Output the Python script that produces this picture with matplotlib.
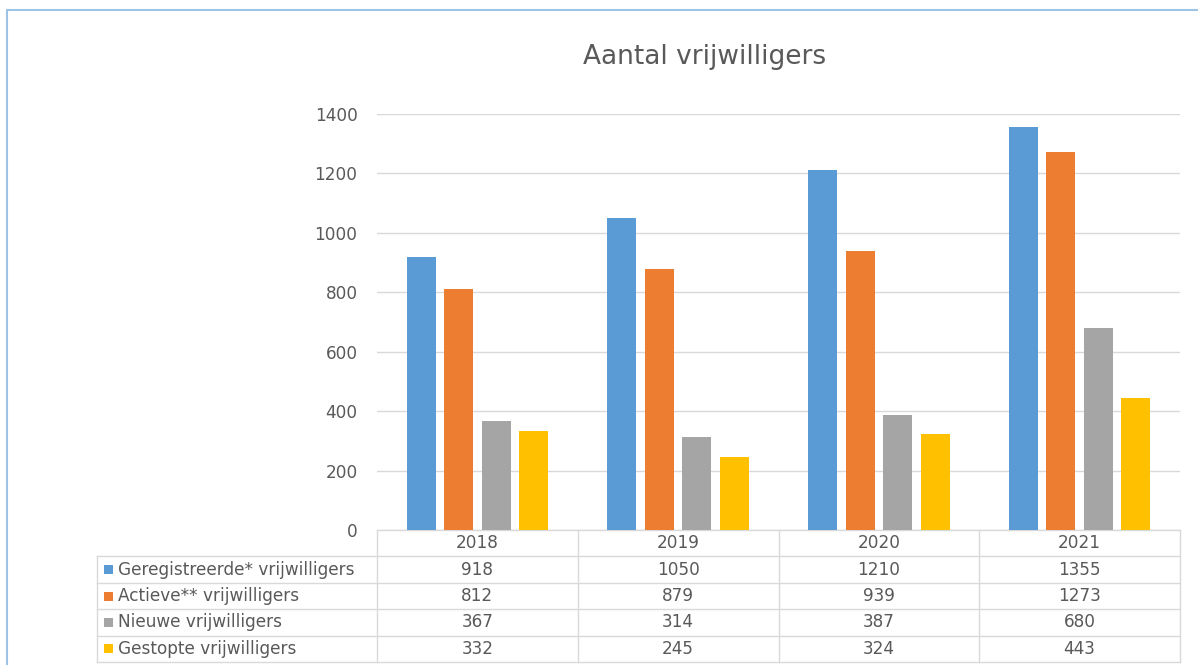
import numpy as np
import matplotlib.pyplot as plt
from matplotlib.patches import Rectangle

# Chart data
years = ["2018", "2019", "2020", "2021"]
series_names = ["Geregistreerde* vrijwilligers", "Actieve** vrijwilligers",
                "Nieuwe vrijwilligers", "Gestopte vrijwilligers"]
geregistreerd = [918, 1050, 1210, 1355]
actief = [812, 879, 939, 1273]
nieuw = [367, 314, 387, 680]
gestopt = [332, 245, 324, 443]
colors = ["#5B9BD5", "#ED7D31", "#A5A5A5", "#FFC000"]

plt.rcParams['font.family'] = ['DejaVu Sans']
text_col = "#595959"
grid_col = "#D9D9D9"
fs = 12.2

fig = plt.figure(figsize=(11.98, 6.65), dpi=100)
ax = fig.add_axes([377 / 1198, 1 - 530 / 665, 803 / 1198, 416 / 665])

values = [geregistreerd, actief, nieuw, gestopt]
x = np.arange(len(years)) + 0.5
pitch = 0.187
width = 0.145
for i, (vals, c) in enumerate(zip(values, colors)):
    ax.bar(x + (i - 1.5) * pitch, vals, width=width, color=c, zorder=3)

ax.set_xlim(0, len(years))
ax.set_ylim(0, 1400)
ax.set_yticks(range(0, 1401, 200))
ax.set_xticks([])
ax.yaxis.grid(True, color=grid_col, linewidth=1, zorder=0)
for s in ax.spines.values():
    s.set_visible(False)
ax.tick_params(axis='y', length=0, pad=14, labelsize=fs, labelcolor=text_col)

# Data table under the axes
ax_w = 803.0
ax_h = 416.0
row_h = 26.4 / ax_h
left = (97 - 377) / ax_w
lw = 1
tkw = dict(transform=ax.transAxes, clip_on=False)

# horizontal lines
ax.plot([0, 1], [0, 0], color=grid_col, lw=lw, **tkw)
for r in range(1, 6):
    ax.plot([left, 1], [-r * row_h, -r * row_h], color=grid_col, lw=lw, **tkw)
# vertical lines
ax.plot([left, left], [-row_h, -5 * row_h], color=grid_col, lw=lw, **tkw)
for c in range(len(years) + 1):
    xc = c / len(years)
    ax.plot([xc, xc], [0, -5 * row_h], color=grid_col, lw=lw, **tkw)

# header
for c, yr in enumerate(years):
    ax.text((c + 0.5) / len(years), -0.5 * row_h, yr, ha='center', va='center',
            fontsize=fs, color=text_col, **tkw)

# rows
sq_w = 9 / ax_w
sq_h = 9 / ax_h
for r, (name, vals, col) in enumerate(zip(series_names, values, colors)):
    yc = -(r + 1.5) * row_h
    ax.add_patch(Rectangle((left + 7 / ax_w, yc - sq_h / 2), sq_w, sq_h,
                           facecolor=col, edgecolor='none', **tkw))
    ax.text(left + 21 / ax_w, yc, name, ha='left', va='center',
            fontsize=fs, color=text_col, **tkw)
    for c, v in enumerate(vals):
        ax.text((c + 0.5) / len(years), yc, str(v), ha='center', va='center',
                fontsize=fs, color=text_col, **tkw)

fig.text(705 / 1198, 1 - 57 / 665, "Aantal vrijwilligers", ha='center', va='center',
         fontsize=19, color=text_col)

# outer frame
fig.patches.append(Rectangle((7 / 1198, -0.01), 1.2, 1 - 10 / 665 + 0.01,
                             transform=fig.transFigure, fill=False,
                             edgecolor="#9DC3E6", linewidth=1.5))

fig.savefig("out.png", dpi=100)
